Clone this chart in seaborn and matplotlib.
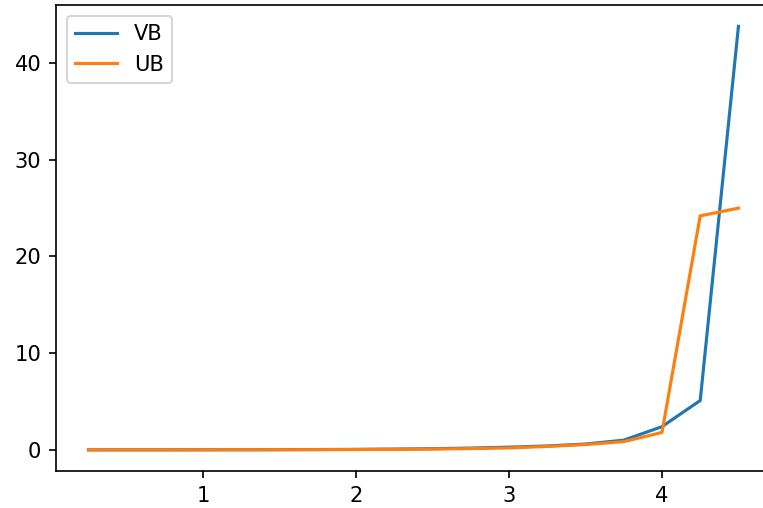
import matplotlib
matplotlib.use("Agg")
import matplotlib.pyplot as plt
import numpy as np
import pandas as pd
import seaborn as sns

x = [0.25, 0.5, 0.75, 1.0, 1.25, 1.5, 1.75, 2.0, 2.25, 2.5, 2.75, 3.0,
     3.25, 3.5, 3.75, 4.0, 4.25, 4.5]
vb = [0.0, 0.0, 0.0, 0.01, 0.01, 0.02, 0.03, 0.05, 0.08, 0.12, 0.18, 0.28,
      0.4, 0.6, 1.0, 2.4, 5.1, 43.8]
ub = [0.0, 0.0, 0.0, 0.0, 0.01, 0.01, 0.02, 0.03, 0.05, 0.08, 0.13, 0.2,
      0.35, 0.55, 0.85, 1.8, 24.2, 25.0]
series_names = ["VB", "UB"]

df = pd.DataFrame({
    "x": x * 2,
    "value": vb + ub,
    "series": [series_names[0]] * len(x) + [series_names[1]] * len(x),
})

dpi = 151.2
fig = plt.figure(figsize=(763 / dpi, 508 / dpi), dpi=dpi)
ax = fig.add_axes([0.0734, 0.0728, 0.937, 0.917])
sns.lineplot(data=df, x="x", y="value", hue="series",
             palette=["#1f77b4", "#ff7f0e"], ax=ax, linewidth=1.5)
ax.set_xlabel("")
ax.set_ylabel("")
ax.legend(loc="upper left")
fig.savefig("out.png", dpi=dpi)
